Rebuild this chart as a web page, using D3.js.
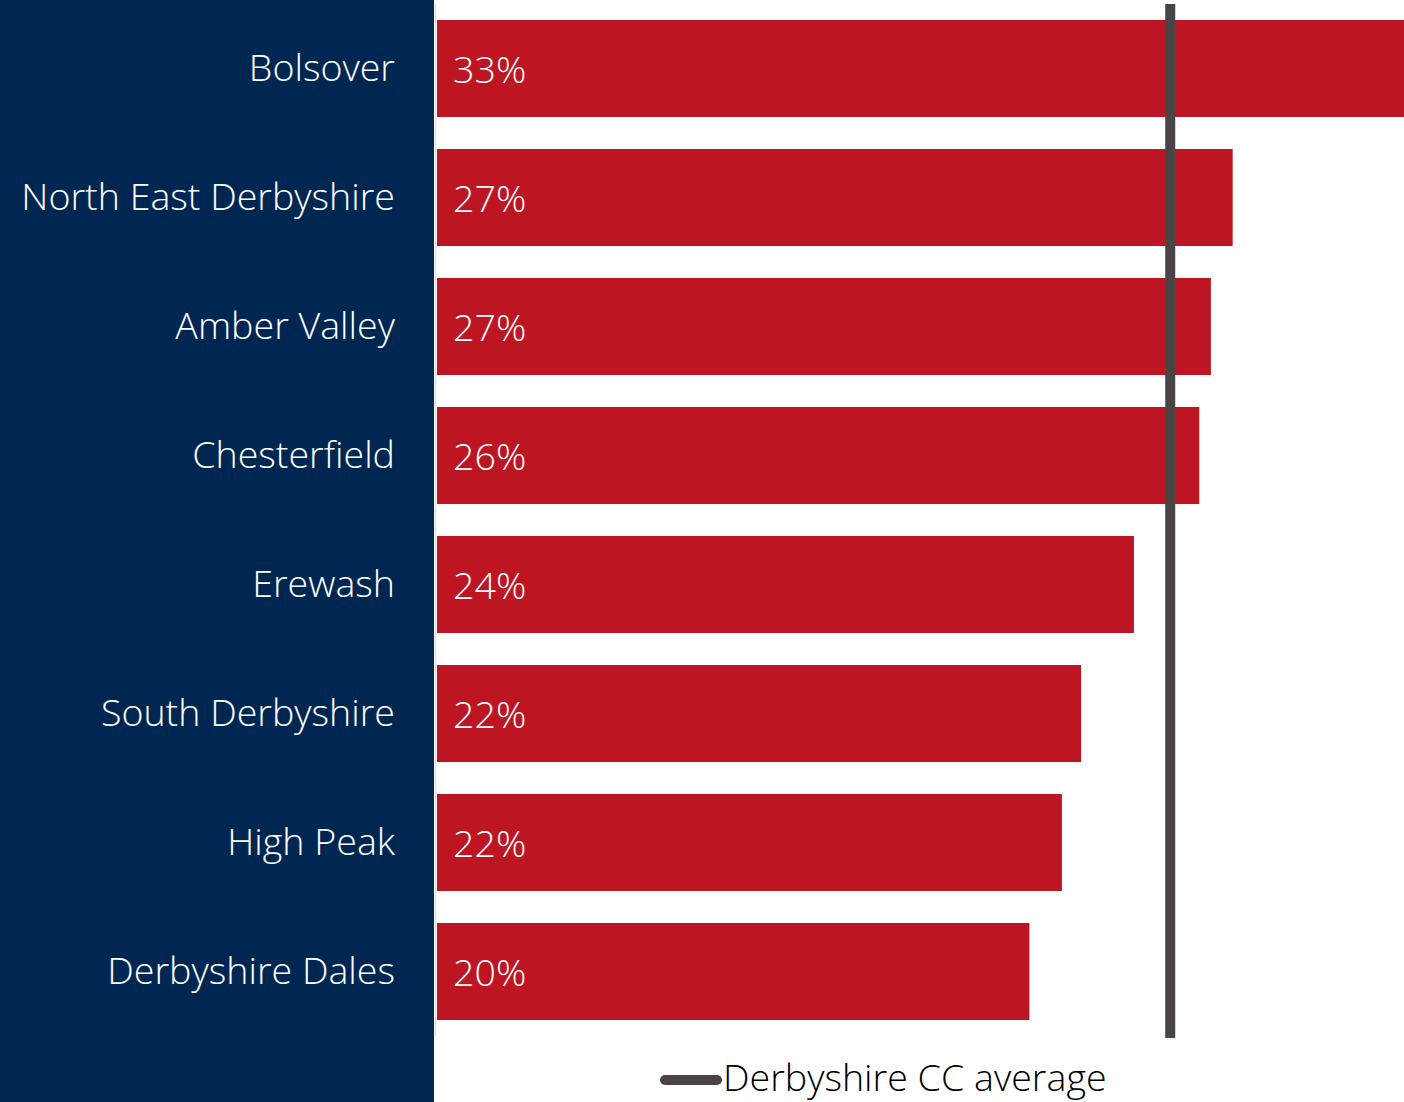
<!DOCTYPE html>
<html>
<head>
<meta charset="utf-8">
<script src="https://cdn.jsdelivr.net/npm/d3@7"></script>
<style>
  html, body { margin: 0; padding: 0; background: #ffffff; }
  svg { display: block; }
  text { font-family: "Open Sans", "Noto Sans", sans-serif; font-weight: 300; }
</style>
</head>
<body>
<svg id="chart" width="1404" height="1102"></svg>
<script>
// Share of residents by district (fraction), ordered as shown
const districts = ["Bolsover", "North East Derbyshire", "Amber Valley", "Chesterfield",
                   "Erewash", "South Derbyshire", "High Peak", "Derbyshire Dales"];
const shares = [0.333, 0.274, 0.2665, 0.2625, 0.240, 0.2218, 0.2152, 0.204];
// County-wide average shown as a reference line
const countyAverage = [0.2525];
const legendLabels = ["Derbyshire CC average"];

const W = 1404, H = 1102;
const panelW = 434;
const fontSize = 37.6;
const svg = d3.select("#chart");

// navy category panel
svg.append("rect").attr("x", 0).attr("y", 0).attr("width", panelW).attr("height", H)
  .attr("fill", "#002752");

const x = d3.scaleLinear().domain([0, 0.333]).range([437, 1404]);
const y = d3.scaleBand().domain(districts).range([4, 1036])
  .paddingInner(0.248).paddingOuter(0.124);

// faint value axis baseline
svg.append("line").attr("x1", 435.5).attr("x2", 435.5).attr("y1", 4).attr("y2", 1036)
  .attr("stroke", "#d9d9d9").attr("stroke-width", 1);

const rows = districts.map((d, i) => ({ name: d, value: shares[i] }));

svg.selectAll("rect.bar").data(rows).join("rect")
  .attr("class", "bar")
  .attr("x", x(0))
  .attr("y", d => y(d.name))
  .attr("width", d => x(d.value) - x(0))
  .attr("height", y.bandwidth())
  .attr("fill", "#bd1622");

const pct = d3.format(".0%");
svg.selectAll("text.val").data(rows).join("text")
  .attr("class", "val")
  .attr("x", 453)
  .attr("y", d => y(d.name) + y.bandwidth() / 2)
  .attr("dy", "0.38em")
  .attr("fill", "#ffffff")
  .attr("font-size", fontSize)
  .text(d => pct(d.value));

svg.selectAll("text.cat").data(rows).join("text")
  .attr("class", "cat")
  .attr("x", 395)
  .attr("y", d => y(d.name) + y.bandwidth() / 2)
  .attr("dy", "0.34em")
  .attr("text-anchor", "end")
  .attr("fill", "#ffffff")
  .attr("font-size", fontSize)
  .text(d => d.name);

// average reference line
svg.selectAll("line.avg").data(countyAverage).join("line")
  .attr("class", "avg")
  .attr("x1", d => x(d)).attr("x2", d => x(d))
  .attr("y1", 4).attr("y2", 1038)
  .attr("stroke", "#4a4446").attr("stroke-width", 10);

// legend
const lg = svg.append("g");
lg.append("line").attr("x1", 665).attr("x2", 717).attr("y1", 1080).attr("y2", 1080)
  .attr("stroke", "#4a4446").attr("stroke-width", 10).attr("stroke-linecap", "round");
lg.append("text").attr("x", 723).attr("y", 1091)
  .attr("fill", "#000000").attr("font-size", fontSize).text(legendLabels[0]);
</script>
</body>
</html>
